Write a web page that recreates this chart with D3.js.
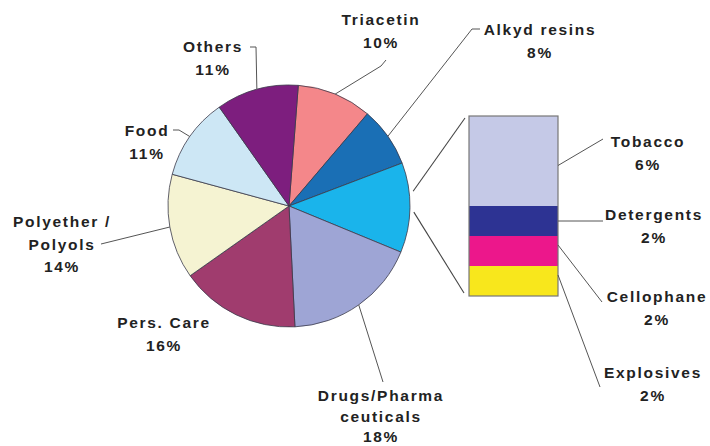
<!DOCTYPE html>
<html>
<head>
<meta charset="utf-8">
<script src="https://cdn.jsdelivr.net/npm/d3@7"></script>
<style>
  html, body { margin: 0; padding: 0; background: #ffffff; }
  svg text { font-family: "Liberation Sans", Arial, sans-serif; font-weight: bold; font-size: 15.5px; fill: #222; letter-spacing: 1.7px; }
</style>
</head>
<body>
<svg id="chart" width="710" height="446"></svg>
<script>
// ---- data ----
const pieCategories = ["Triacetin", "Alkyd resins", "Other uses", "Drugs/Pharma ceuticals", "Pers. Care", "Polyether / Polyols", "Food", "Others"];
const pieValues = [10, 8, 12, 18, 16, 14, 11, 11];
const pieLabelLines = [["Triacetin", "10%"], ["Alkyd resins", "8%"], [], ["Drugs/Pharma", "ceuticals", "18%"], ["Pers. Care", "16%"], ["Polyether /", "Polyols", "14%"], ["Food", "11%"], ["Others", "11%"]];
const pieColors = ["#F4878A", "#1A6FB5", "#1AB4EB", "#9EA5D5", "#A03C6E", "#F5F3D2", "#CDE7F5", "#7D1E7E"];

const barCategories = ["Tobacco", "Detergents", "Cellophane", "Explosives"];
const barValues = [6, 2, 2, 2];
const barLabelLines = [["Tobacco", "6%"], ["Detergents", "2%"], ["Cellophane", "2%"], ["Explosives", "2%"]];
const barColors = ["#C5C9E7", "#2D3393", "#EC178B", "#F8E71C"];

// ---- layout ----
const cx = 289, cy = 206, R = 121;
const startDeg = 4.4;
const lineH = 22.5;
// label text centres (first line) and leader elbow points, per pie slice
const pieLabelLayout = [
  { x: 381, y: 20, lh: lineH, leader: [[386, 60], [381, 66]] },
  { x: 540, y: 30, lh: lineH, leader: [[480, 29], [472, 29]] },
  null,
  { x: 381, y: 396, lh: 20.5, leader: [[383, 382]] },
  { x: 164, y: 323, lh: lineH, leader: null },
  { x: 62, y: 222, lh: lineH, leader: [[101, 244]] },
  { x: 147, y: 131, lh: lineH, leader: [[173, 130], [179, 130]] },
  { x: 213, y: 47, lh: lineH, leader: [[250, 47], [256, 47]] }
];
const bar = { x0: 469, x1: 558, y0: 116, y1: 296 };
const barLabelLayout = [
  { x: 648, y: 142, from: 0.55, to: [603, 139] },
  { x: 654, y: 215, from: 0.5, to: [603, 221] },
  { x: 657, y: 297, from: 0.3, to: [602, 302] },
  { x: 653, y: 373, from: 0.3, to: [600, 387] }
];

const svg = d3.select("#chart");
const rad = d => d * Math.PI / 180;

const pie = d3.pie().sort(null).value(d => d)
  .startAngle(rad(startDeg)).endAngle(rad(startDeg + 360));
const arcs = pie(pieValues);
const arc = d3.arc().innerRadius(0).outerRadius(R);

const g = svg.append("g").attr("transform", `translate(${cx},${cy})`);
g.selectAll("path.slice").data(arcs).enter().append("path")
  .attr("class", "slice")
  .attr("d", arc)
  .attr("fill", (d, i) => pieColors[i])
  .attr("stroke", "#3a3a4a")
  .attr("stroke-width", 0.8)
  .attr("stroke-linejoin", "round");

const polar = (a, r) => [cx + r * Math.sin(a), cy - r * Math.cos(a)];

// leader lines for pie slices
const line = d3.line();
arcs.forEach((d, i) => {
  const L = pieLabelLayout[i];
  if (!L || !L.leader) return;
  const mid = (d.startAngle + d.endAngle) / 2;
  const pts = L.leader.concat([polar(mid, R)]);
  svg.append("path").attr("d", line(pts))
    .attr("fill", "none").attr("stroke", "#555").attr("stroke-width", 1);
});

// pie labels
arcs.forEach((d, i) => {
  const L = pieLabelLayout[i];
  if (!L) return;
  const t = svg.append("text").attr("text-anchor", "middle");
  pieLabelLines[i].forEach((s, k) => {
    t.append("tspan").attr("x", L.x).attr("y", L.y + k * L.lh).attr("dy", "0.35em").text(s);
  });
});

// connector lines from the "Other uses" slice to the bar
const other = arcs[2];
const omid = (other.startAngle + other.endAngle) / 2;
const pTop = polar(omid - rad(7.6), R + 4);
const pBot = polar(omid + rad(2), R + 4);
svg.append("line").attr("x1", pTop[0]).attr("y1", pTop[1]).attr("x2", bar.x0 - 4).attr("y2", bar.y0 + 2)
  .attr("stroke", "#444").attr("stroke-width", 1.1);
svg.append("line").attr("x1", pBot[0]).attr("y1", pBot[1]).attr("x2", bar.x0 - 5).attr("y2", bar.y1 - 3)
  .attr("stroke", "#444").attr("stroke-width", 1.1);

// stacked bar
const total = d3.sum(barValues);
const yScale = d3.scaleLinear().domain([0, total]).range([bar.y0, bar.y1]);
const stacked = [];
let acc = 0;
barValues.forEach((v, i) => { stacked.push({ i, a: acc, b: acc + v }); acc += v; });
svg.selectAll("rect.seg").data(stacked).enter().append("rect")
  .attr("class", "seg")
  .attr("x", bar.x0)
  .attr("width", bar.x1 - bar.x0)
  .attr("y", d => yScale(d.a))
  .attr("height", d => yScale(d.b) - yScale(d.a))
  .attr("fill", d => barColors[d.i]);
svg.append("rect").attr("x", bar.x0).attr("y", bar.y0)
  .attr("width", bar.x1 - bar.x0).attr("height", bar.y1 - bar.y0)
  .attr("fill", "none").attr("stroke", "#777").attr("stroke-width", 1.2);

// bar leaders + labels
stacked.forEach((d, k) => {
  const L = barLabelLayout[k];
  const y = yScale(d.a + (d.b - d.a) * L.from);
  svg.append("path").attr("d", line([[bar.x1, y], L.to]))
    .attr("fill", "none").attr("stroke", "#555").attr("stroke-width", 1);
  const t = svg.append("text").attr("text-anchor", "middle");
  barLabelLines[k].forEach((s, j) => {
    t.append("tspan").attr("x", L.x).attr("y", L.y + j * lineH).attr("dy", "0.35em").text(s);
  });
});
</script>
</body>
</html>
